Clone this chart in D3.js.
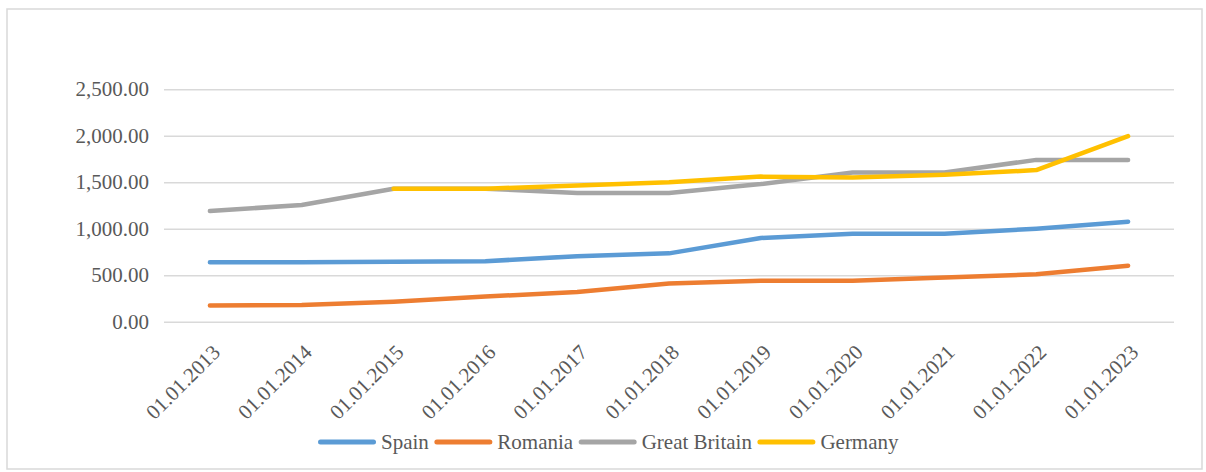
<!DOCTYPE html>
<html>
<head>
<meta charset="utf-8">
<script src="https://cdn.jsdelivr.net/npm/d3@7/dist/d3.min.js"></script>
<style>
  html, body { margin: 0; padding: 0; background: #fff; }
  svg { display: block; }
  svg text { font-family: "Liberation Serif", "Times New Roman", Times, "DejaVu Serif", "Noto Serif", serif !important; fill: #595959; }
</style>
</head>
<body>
<svg id="chart" width="1206" height="472"></svg>
<script>
const categories = ["01.01.2013","01.01.2014","01.01.2015","01.01.2016","01.01.2017","01.01.2018","01.01.2019","01.01.2020","01.01.2021","01.01.2022","01.01.2023"];
const spain = [640, 640, 645, 650, 705, 735, 900, 945, 945, 1000, 1075];
const romania = [175, 180, 215, 270, 320, 410, 440, 440, 475, 510, 602];
const greatBritain = [1190, 1255, 1430, 1430, 1385, 1385, 1480, 1605, 1605, 1740, 1740];
const germany = [null, null, 1430, 1430, 1465, 1500, 1560, 1550, 1580, 1630, 1995];
const yTicks = [0, 500, 1000, 1500, 2000, 2500];
const seriesNames = ["Spain", "Romania", "Great Britain", "Germany"];
const seriesColors = ["#5B9BD5", "#ED7D31", "#A5A5A5", "#FFC000"];

const series = [spain, romania, greatBritain, germany].map((v, i) => ({name: seriesNames[i], color: seriesColors[i], values: v}));

const FONT = '"Liberation Serif", "Times New Roman", Times, "DejaVu Serif", serif';
const svg = d3.select("#chart");
const plot = {left: 164, right: 1174, top: 89.2, bottom: 321.7};

svg.append("rect").attr("x", 7).attr("y", 9).attr("width", 1195).attr("height", 460)
  .attr("fill", "#fff").attr("stroke", "#D9D9D9").attr("stroke-width", 1.5);

const x = d3.scalePoint().domain(categories).range([plot.left, plot.right]).padding(0.5);
const y = d3.scaleLinear().domain([0, 2500]).range([plot.bottom, plot.top]);

const fmt = d3.format(",.2f");

// gridlines + y labels
const yAxis = d3.axisLeft(y).tickValues(yTicks).tickSize(-(plot.right - plot.left)).tickPadding(15).tickFormat(fmt);
const gy = svg.append("g").attr("transform", `translate(${plot.left},0)`).call(yAxis);
gy.attr("font-family", FONT);
gy.select(".domain").remove();
gy.selectAll(".tick line").attr("stroke", "#D9D9D9").attr("stroke-width", 1.5);
gy.selectAll(".tick text").attr("font-size", 21).attr("fill", "#595959").attr("dy", "0.32em");

// x labels
const xAxis = d3.axisBottom(x).tickSize(0).tickPadding(0);
const gx = svg.append("g").attr("transform", `translate(0,${plot.bottom})`).call(xAxis);
gx.attr("font-family", FONT);
gx.select(".domain").remove();
gx.selectAll(".tick text")
  .attr("font-size", 21).attr("fill", "#595959")
  .attr("text-anchor", "end").attr("y", 0).attr("dy", 0)
  .attr("transform", "translate(11,32) rotate(-45)");

// lines
const line = d3.line().defined(d => d != null).x((d, i) => x(categories[i])).y(d => y(d));
series.forEach(s => {
  svg.append("path").datum(s.values)
    .attr("fill", "none").attr("stroke", s.color).attr("stroke-width", 4.5)
    .attr("stroke-linecap", "round").attr("stroke-linejoin", "round")
    .attr("d", line);
});

// legend
const leg = svg.append("g").attr("font-family", FONT);
let lx = 318;
const ly = 442;
series.forEach(s => {
  leg.append("line").attr("x1", lx + 2.5).attr("x2", lx + 55.5).attr("y1", ly).attr("y2", ly)
    .attr("stroke", s.color).attr("stroke-width", 5).attr("stroke-linecap", "round");
  const t = leg.append("text").attr("x", lx + 63).attr("y", ly + 6.5)
    .attr("font-size", 21).text(s.name);
  lx = lx + 63 + t.node().getComputedTextLength() + 5.5;
});
</script>
</body>
</html>
